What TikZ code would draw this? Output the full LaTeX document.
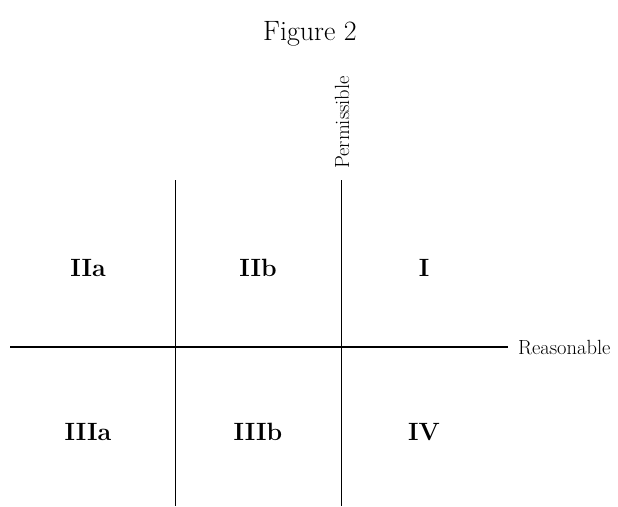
\documentclass[tikz,border=0pt]{standalone}
\usepackage{tikz}
\usetikzlibrary{positioning}

\tikzset{
	region/.style={font=\fontsize{25}{28}\selectfont\bfseries},
	axislabel/.style={font=\fontsize{20.5}{23}\selectfont, inner sep=0pt},
	axis/.style={draw=black, line width=1.3pt},
}

\begin{document}
\begin{tikzpicture}[x=1pt, y=-1pt]
	\useasboundingbox (0,0) rectangle (618,506);

	% titulo
	\node[font=\fontsize{28}{32}\selectfont] (title) at (310,34) {Figure 2};

	% ejes
	\coordinate (hleft) at (10,347);
	\coordinate (hright) at (508,347);
	\coordinate (vltop) at (175.5,180);
	\coordinate (vlbot) at (175.5,506);
	\coordinate (vrtop) at (341.5,180);
	\coordinate (vrbot) at (341.5,506);
	\draw[axis] (hleft) -- (hright);
	\draw[axis] (vltop) -- (vlbot);
	\draw[axis] (vrtop) -- (vrbot);
	\node[axislabel, anchor=west] (reas) at (518,348) {Reasonable};
	\node[axislabel, rotate=90, anchor=west] (perm) at (342,169) {Permissible};

	% regiones
	\foreach \name/\lab/\px/\py in {r2a/IIa/88/268, r2b/IIb/258/268, r1/I/424/268,
		r3a/IIIa/88/432, r3b/IIIb/258/432, r4/IV/424/432}{
		\node[region] (\name) at (\px,\py) {\lab};
	}
\end{tikzpicture}
\end{document}
